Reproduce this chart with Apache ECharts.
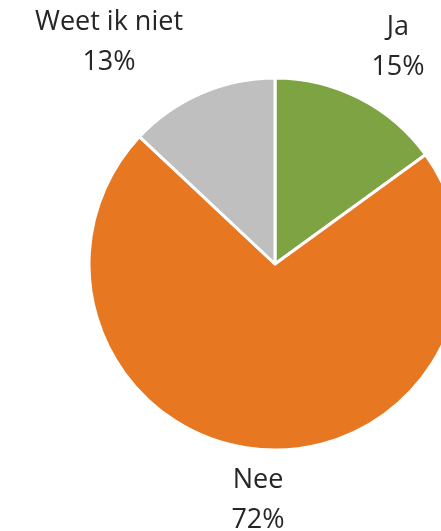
<!DOCTYPE html>
<html><head><meta charset="utf-8">
<script src="https://cdn.jsdelivr.net/npm/echarts@6/dist/echarts.min.js"></script>
<style>html,body{margin:0;padding:0;background:#fff}#c{width:441px;height:531px}</style>
</head><body><div id="c"></div>
<script>
const categories = ['Ja', 'Nee', 'Weet ik niet'];
const values = [15, 72, 13];
const colors = ['#7EA343', '#E87722', '#BFBFBF'];
const labelPos = [[398, 47], [258, 500], [109, 42]];

const chart = echarts.init(document.getElementById('c'), null, {renderer: 'canvas'});
chart.setOption({
  animation: false,
  series: [{
    type: 'pie',
    center: [275, 264],
    radius: 186,
    startAngle: 90,
    clockwise: true,
    data: categories.map((n, i) => ({name: n, value: values[i], itemStyle: {color: colors[i]}})),
    itemStyle: {borderColor: '#fff', borderWidth: 3},
    label: {
      show: true,
      position: 'outside',
      formatter: '{b}\n{d}%',
      fontFamily: 'Open Sans',
      fontSize: 27,
      lineHeight: 40,
      color: '#262626',
      align: 'center',
      overflow: 'none',
      width: 220
    },
    labelLine: {show: false},
    labelLayout: function (p) {
      return {x: labelPos[p.dataIndex][0], y: labelPos[p.dataIndex][1], align: 'center', verticalAlign: 'middle'};
    }
  }]
});
</script></body></html>
